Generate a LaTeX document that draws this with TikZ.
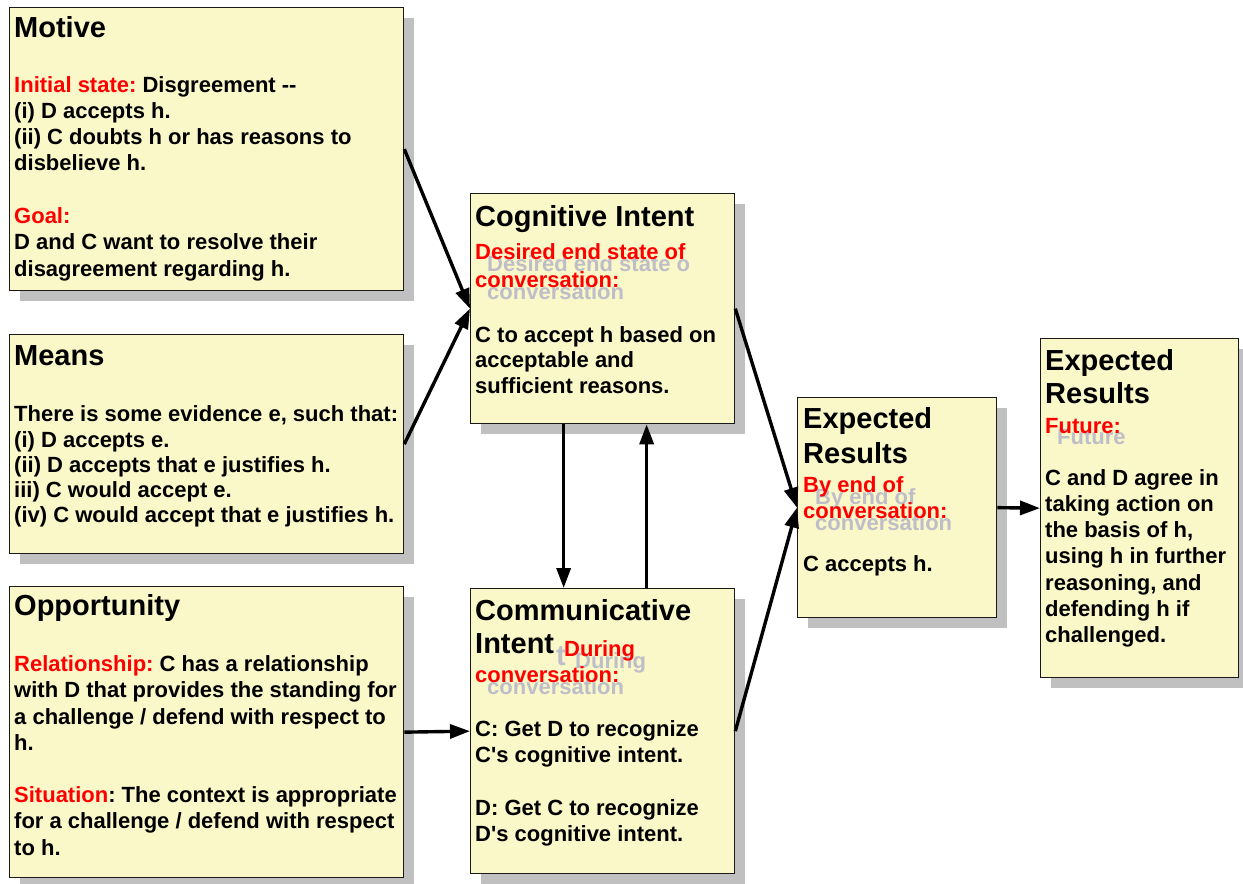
\documentclass[tikz,border=0pt]{standalone}
\usepackage{fontspec}
\setmainfont{Liberation Sans}[Ligatures=TeXOff]
\usetikzlibrary{arrows.meta,shadows,calc}
\definecolor{boxfill}{RGB}{250,247,201}
\definecolor{shadowgray}{RGB}{192,192,192}
\definecolor{ghost}{RGB}{190,190,200}
\definecolor{lblred}{RGB}{255,0,0}
\newcommand\blk[2][26.3pt]{\vtop{\hsize=600pt\parindent=0pt\parskip=0pt\leftskip=0pt\rightskip=0pt plus 1fil\baselineskip=#1\lineskiplimit=-100pt\lineskip=0pt\frenchspacing #2\par}}
\tikzset{
  box/.style={draw=black!90, line width=1.3pt, fill=boxfill, anchor=north west, inner sep=0pt,
    drop shadow={shadow xshift=10pt, shadow yshift=-10pt, fill=shadowgray, opacity=1}},
  ttl/.style={anchor=base west, inner sep=0pt, font=\fontsize{29}{34}\selectfont\bfseries\frenchspacing},
  txt/.style={anchor=base west, inner sep=0pt, font=\fontsize{22}{26.3}\selectfont\bfseries\frenchspacing},
  lbl/.style={txt, text=lblred},
  gst/.style={txt, text=ghost},
  gstttl/.style={ttl, text=ghost},
  arr/.style={-{Triangle[length=20pt,width=14pt]}, line width=3.4pt},
}
\begin{document}
\begin{tikzpicture}[x=1pt,y=-1pt]
\useasboundingbox (0,0) rectangle (1243,884);
% boxes
\node[box, minimum width=394pt, minimum height=283pt] (motive) at (9,7) {};
\node[box, minimum width=394pt, minimum height=219pt] (means) at (9,334) {};
\node[box, minimum width=394pt, minimum height=291pt] (opp) at (9,586) {};
\node[box, minimum width=264pt, minimum height=230pt] (cog) at (470,193) {};
\node[box, minimum width=264pt, minimum height=285pt] (comm) at (470,588) {};
\node[box, minimum width=199pt, minimum height=220pt] (expm) at (797,397) {};
\node[box, minimum width=198pt, minimum height=339pt] (expr) at (1040,338) {};
% arrows
\draw[arr] (motive.east) -- (cog.west);
\draw[arr] (means.east) -- (cog.west);
\draw[arr] (opp.east) -- (comm.west);
\draw[arr] ([xshift=-39pt]cog.south) -- ([xshift=-39pt]cog.south |- comm.north);
\draw[arr] ([xshift=44pt]cog.south |- comm.north) -- ([xshift=44pt]cog.south);
\draw[arr] (cog.east) -- (expm.west);
\draw[arr] (comm.east) -- (expm.west);
\draw[arr] (expm.east) -- (expr.west);
% Motive
\node[ttl] (motive-t) at (14,37.3) {Motive};
\node[txt] (motive-b) at (14,92) {\blk{\textcolor{lblred}{Initial state:} Disgreement --\par
(i) D accepts h.\par (ii) C doubts h or has reasons to\par disbelieve h.\par\mbox{}\par
\textcolor{lblred}{Goal:}\par D and C want to resolve their\par disagreement regarding h.}};
% Means
\node[ttl] (means-t) at (14,365) {Means};
\node[txt] (means-b) at (14,421.7) {\blk[25.3pt]{There is some evidence e, such that:\par
(i) D accepts e.\par (ii) D accepts that e justifies h.\par iii) C would accept e.\par
(iv) C would accept that e justifies h.}};
% Opportunity
\node[ttl] (opp-t) at (14,615) {Opportunity};
\node[txt] (opp-b) at (14,671.7) {\blk[26.2pt]{\textcolor{lblred}{Relationship:} C has a relationship\par
with D that provides the standing for\par a challenge / defend with respect to\par h.\par\mbox{}\par
\textcolor{lblred}{Situation}: The context is appropriate\par for a challenge / defend with respect\par to h.}};
% Cognitive Intent
\node[ttl] (cog-t) at (475,226) {Cognitive Intent};
\node[gst] (cog-g) at (487,271) {\blk[28pt]{Desired end state o\par conversation}};
\node[lbl] (cog-r) at (475,259) {\blk[28pt]{Desired end state of\par conversation:}};
\node[txt] (cog-b) at (475,342) {\blk[25.5pt]{C to accept h based on\par acceptable and\par sufficient reasons.}};
% Communicative Intent
\node[gstttl] (comm-gt) at (556,665) {t};
\node[gst] (comm-g1) at (575,668) {During};
\node[gst] (comm-g2) at (487,694) {conversation};
\node[ttl] (comm-t) at (475,620) {\blk[33pt]{Communicative\par Intent}};
\node[lbl] (comm-r1) at (564,656) {During};
\node[lbl] (comm-r2) at (475,682) {conversation:};
\node[txt] (comm-b) at (475,736.7) {\blk[26.1pt]{C: Get D to recognize\par C's cognitive intent.\par\mbox{}\par
D: Get C to recognize\par D's cognitive intent.}};
% Expected Results (middle)
\node[ttl] (expm-t) at (803,428) {\blk[35pt]{Expected\par Results}};
\node[gst] (expm-g) at (815,504) {\blk[26pt]{By end of\par conversation}};
\node[lbl] (expm-r) at (803,492) {\blk[26pt]{By end of\par conversation:}};
\node[txt] (expm-b) at (803,571.7) {C accepts h.};
% Expected Results (right)
\node[ttl] (expr-t) at (1045,370) {\blk[33pt]{Expected\par Results}};
\node[gst] (expr-g) at (1057,444) {Future};
\node[lbl] (expr-r) at (1045,433) {Future:};
\node[txt] (expr-b) at (1045,485) {\blk[26.3pt]{C and D agree in\par taking action on\par the basis of h,\par
using h in further\par reasoning, and\par defending h if\par challenged.}};
\end{tikzpicture}
\end{document}
